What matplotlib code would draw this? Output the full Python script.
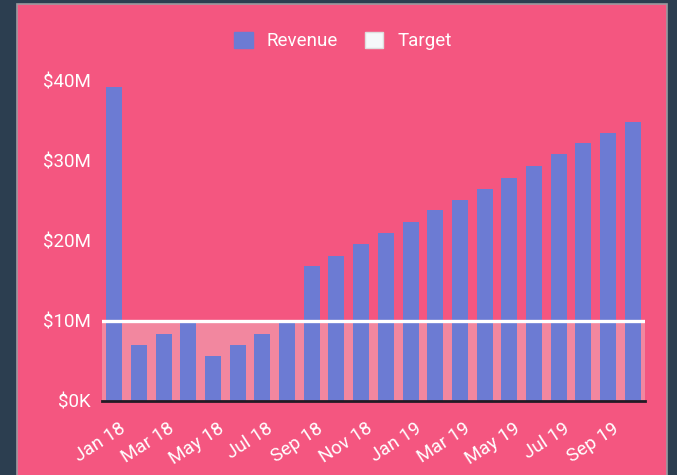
import matplotlib
matplotlib.use("Agg")
import matplotlib.pyplot as plt
from matplotlib.patches import Rectangle, Patch
from matplotlib.ticker import FuncFormatter
import matplotlib.transforms as mtransforms

plt.rcParams['font.family'] = ['Roboto', 'DejaVu Sans']

# data (values in $M)
months = ["Jan 18", "Feb 18", "Mar 18", "Apr 18", "May 18", "Jun 18",
          "Jul 18", "Aug 18", "Sep 18", "Oct 18", "Nov 18", "Dec 18",
          "Jan 19", "Feb 19", "Mar 19", "Apr 19", "May 19", "Jun 19",
          "Jul 19", "Aug 19", "Sep 19", "Oct 19"]
revenue = [39.2, 7.0, 8.4, 9.8, 5.6, 7.0, 8.4, 9.8, 16.8, 18.1, 19.55, 20.96,
           22.4, 23.8, 25.1, 26.5, 27.9, 29.4, 30.8, 32.2, 33.5, 34.9]
target = 10.0
yticks = [0, 10, 20, 30, 40]

bg_dark = "#2c3e50"
pink = "#f45680"
bar_col = "#6c7bd3"
fill_col = "#f2879f"
white = "#ffffff"

W, H = 677, 475
fig = plt.figure(figsize=(W / 100, H / 100), dpi=100)
fig.patch.set_facecolor(bg_dark)

# pink card behind the chart
fig.patches.append(Rectangle((17 / W, -0.05), 650 / W, 1.05 - 4 / H,
                             transform=fig.transFigure, facecolor=pink,
                             edgecolor="#9a9aa0", linewidth=1.2, zorder=-5))

ax = fig.add_axes([102 / W, (H - 400.7) / H, 543 / W, 320 / H])
ax.set_facecolor("none")
ax.set_zorder(2)

x = list(range(len(months)))
ax.axhspan(0, target, color=fill_col, zorder=1, lw=0)
ax.bar(x, revenue, width=0.65, color=bar_col, zorder=2)
ax.axhline(target, color=white, lw=2.4, zorder=3)

ax.set_xlim(-0.5, len(months) - 0.5)
ax.set_ylim(0, 40)

for s in ["top", "right", "left"]:
    ax.spines[s].set_visible(False)
ax.spines["bottom"].set_color("#231a24")
ax.spines["bottom"].set_linewidth(2)
ax.spines["bottom"].set_zorder(4)

ax.set_yticks(yticks)
ax.yaxis.set_major_formatter(FuncFormatter(
    lambda v, p: "$0K" if v == 0 else "${:d}M".format(int(v))))
ax.tick_params(axis="y", length=0, pad=8, labelsize=13.5, labelcolor=white)

shown = x[::2]
ax.set_xticks(shown)
ax.set_xticklabels([months[i] for i in shown], rotation=33, ha="right",
                   rotation_mode="anchor", va="center")
ax.tick_params(axis="x", length=0, pad=19, labelsize=13.5, labelcolor=white)
offset = mtransforms.ScaledTranslation(9 / 100, 0, fig.dpi_scale_trans)
for lab in ax.get_xticklabels():
    lab.set_transform(lab.get_transform() + offset)

handles = [Patch(facecolor=bar_col, edgecolor=bar_col, label="Revenue"),
           Patch(facecolor="#f5f8fa", edgecolor="#dddddd", label="Target")]
leg = fig.legend(handles=handles, loc="center", bbox_to_anchor=(343 / W, 1 - 41 / H),
                 ncol=2, frameon=False, fontsize=13.5, handlelength=1.0,
                 handleheight=1.0, handletextpad=0.75, columnspacing=1.4)
for t in leg.get_texts():
    t.set_color(white)

fig.savefig("out.png", dpi=100, facecolor=fig.get_facecolor())
